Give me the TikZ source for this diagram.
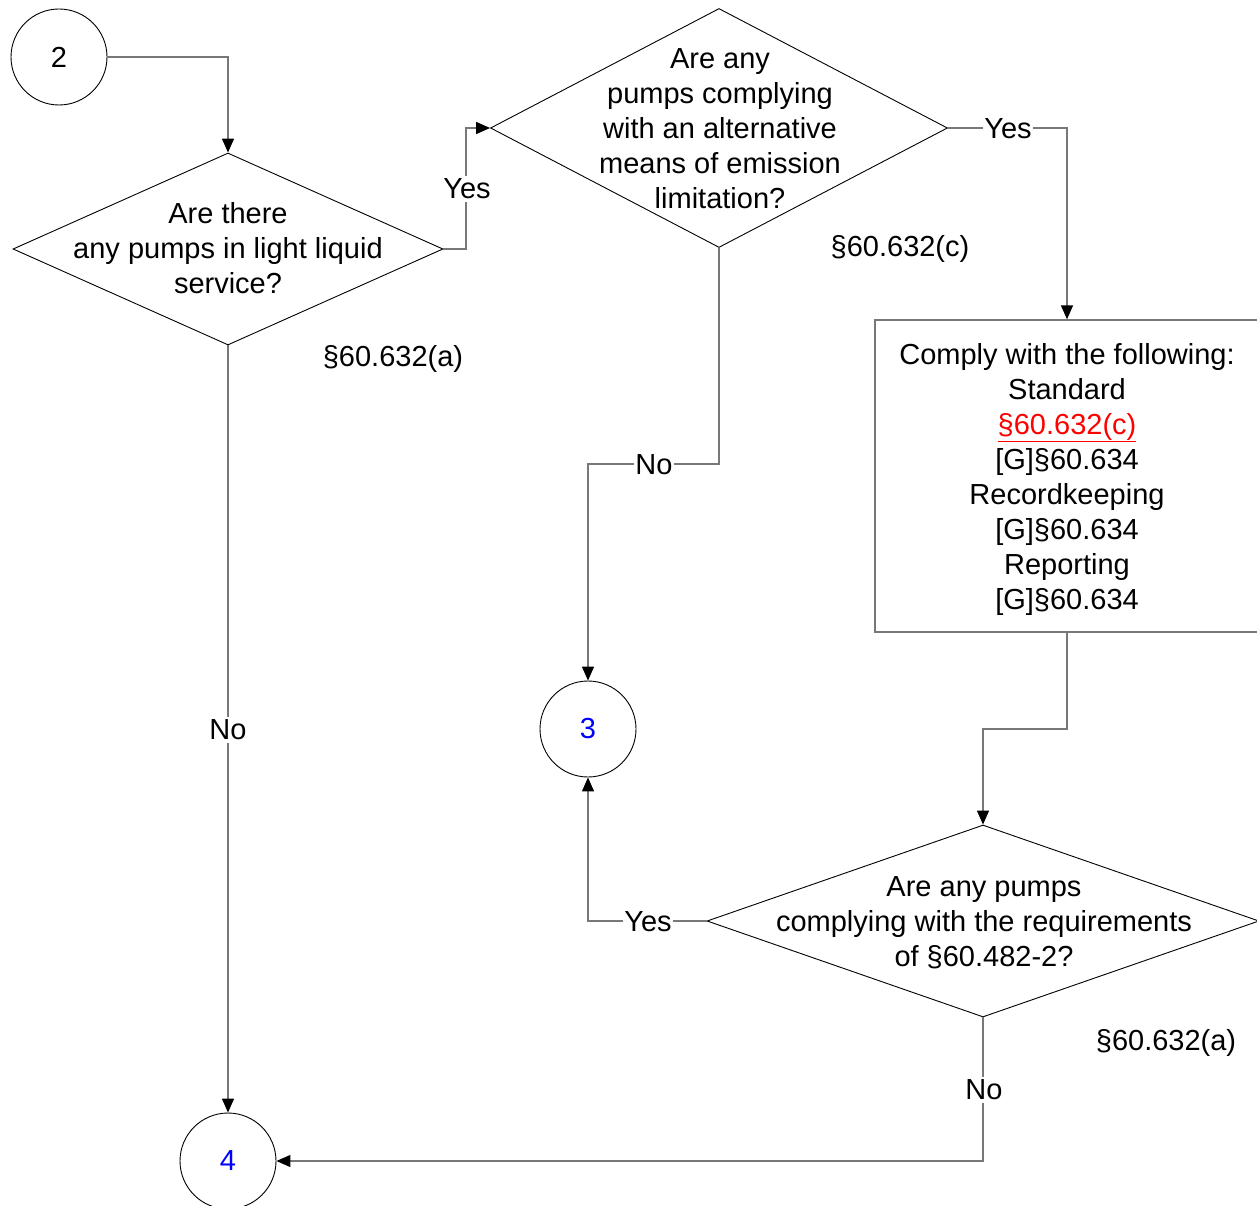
\documentclass[tikz,border=0pt]{standalone}
\usepackage{fontspec}
\setmainfont{Liberation Sans}
\usetikzlibrary{shapes.geometric,arrows.meta}
\definecolor{conngray}{RGB}{120,120,120}
\definecolor{linkred}{RGB}{255,0,0}
\definecolor{numblue}{RGB}{0,0,255}
\tikzset{
  txt/.style={font=\fontsize{29}{35}\selectfont, align=center, inner sep=0pt},
  dia/.style={diamond, draw=black, line width=0.9pt, inner sep=0pt},
  conncircle/.style={circle, draw=black, line width=0.9pt, minimum size=96pt, inner sep=0pt, font=\fontsize{29}{35}\selectfont},
  stdbox/.style={rectangle, draw=conngray, line width=1.3pt, inner sep=0pt, align=center, font=\fontsize{29}{35}\selectfont},
  conn/.style={draw=conngray, line width=1.3pt, -{Triangle[length=14pt,width=12pt,color=black,fill=black]}},
  lbl/.style={font=\fontsize{29}{35}\selectfont, fill=white, draw=none, inner xsep=1pt, inner ysep=3pt},
  ref/.style={font=\fontsize{29}{35}\selectfont, inner sep=0pt}
}
\begin{document}
\begin{tikzpicture}[x=1pt,y=-1pt]
\useasboundingbox (0,0) rectangle (1257,1206);
\clip (0,0) rectangle (1257,1206);
\fill[white] (0,0) rectangle (1257,1206);

% nodes
\node[conncircle] (c2) at (59,57) {2};
\node[conncircle, text=numblue] (c3) at (588,729) {3};
\node[conncircle, text=numblue] (c4) at (228,1161) {4};

\node[dia, minimum width=430pt, minimum height=192pt] (d1) at (228,249) {};
\node[txt] (t1) at (228,248) {Are there\\any pumps in light liquid\\service?};

\node[dia, minimum width=457pt, minimum height=239pt] (d2) at (719,128) {};
\node[txt] (t2) at (720,129) {Are any\\pumps complying\\with an alternative\\means of emission\\limitation?};

\node[dia, minimum width=552pt, minimum height=192pt] (d3) at (983,921) {};
\node[txt] (t3) at (984,923) {Are any pumps\\complying with the requirements\\of §60.482-2?};

\node[stdbox, minimum width=384pt, minimum height=312pt] (box) at (1067,476) {};
\node[txt] (tb) at (1067,479)
  {Comply with the following:\\Standard\\{\color{linkred}\underline{§60.632(c)}}\\{[G]§60.634}\\Recordkeeping\\{[G]§60.634}\\Reporting\\{[G]§60.634}};

% reference labels
\node[ref] (r1) at (393,359) {§60.632(a)};
\node[ref] (r2) at (900,249) {§60.632(c)};
\node[ref] (r3) at (1166,1043) {§60.632(a)};

% helper coordinates
\coordinate (y1) at (466,249);
\coordinate (n2) at (719,464);
\coordinate (m1) at (1067,729);

% connectors
\draw[conn] (c2.east) -| (d1.north);
\draw[conn] (d1.east) -- (y1) |- (d2.west);
\draw[conn] (d2.east) -| (box.north);
\draw[conn] (d2.south) -- (n2) -| (c3.north);
\draw[conn] (box.south) -- (m1) -| (d3.north);
\draw[conn] (d3.west) -| (c3.south);
\draw[conn] (d3.south) |- (c4.east);
\draw[conn] (d1.south) -- (c4.north);

% connector labels (on white, interrupting the lines)
\node[lbl] (ly1) at (467,189) {Yes};
\node[lbl] (ly2) at (1008,129) {Yes};
\node[lbl] (ln2) at (654,465) {No};
\node[lbl] (ly3) at (648,922) {Yes};
\node[lbl] (ln3) at (984,1090) {No};
\node[lbl] (ln1) at (228,730) {No};
\end{tikzpicture}
\end{document}
